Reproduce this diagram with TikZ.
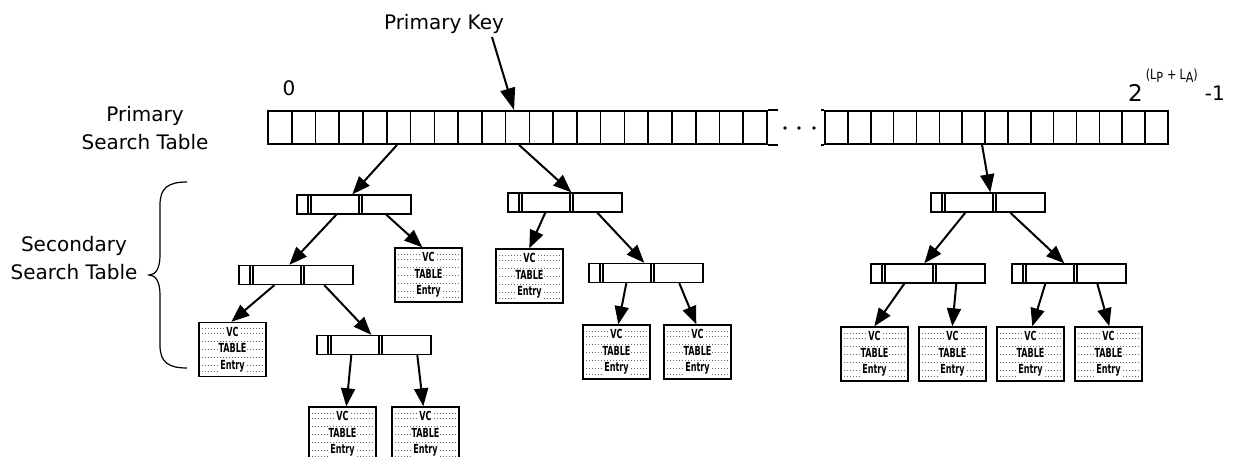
\documentclass[tikz,border=0pt]{standalone}
\usepackage{fontspec}
\setmainfont{DejaVu Sans}
\newfontfamily\entryfont{DejaVu Sans Condensed}[FakeStretch=0.72]
\newfontfamily\supfont{DejaVu Sans}[FakeStretch=0.8]
\usetikzlibrary{arrows.meta}
% one word of a VC table entry, masking the dotted rules behind it
\newcommand\entryword[1]{{\setlength{\fboxsep}{0.6pt}\colorbox{white}{#1}}}
\newcommand\vctext{\entryword{VC}\\\entryword{TABLE}\\\entryword{Entry}}
\begin{document}
\begin{tikzpicture}[x=1pt,y=-1pt,
  lbl/.style={font=\fontsize{20}{28}\selectfont, align=center, inner sep=0pt},
  tbl/.style={draw, line width=1.9pt, inner sep=0pt, minimum height=33pt},
  sbar/.style={draw, line width=1.4pt, inner sep=0pt, minimum width=114pt, minimum height=19pt,
    path picture={\foreach \d in {11,14,62,65}
      \draw[line width=1.1pt] ([xshift=\d pt]path picture bounding box.south west)
        -- ([xshift=\d pt]path picture bounding box.north west);}},
  entry/.style={draw, line width=1.4pt, inner sep=0pt, minimum width=67pt, minimum height=54pt,
    align=center, font=\entryfont\bfseries\fontsize{12.5}{16.5}\selectfont,
    path picture={\foreach \h in {6,11,19,27,35,43,49}
      \draw[line width=0.5pt, black!60, dash pattern=on 0.8pt off 2.2pt]
        ([yshift=-\h pt]path picture bounding box.north west)
        -- ([yshift=-\h pt]path picture bounding box.north east);}},
  arr/.style={line width=2pt, -{Triangle[length=18pt,width=14pt]}}
]
\useasboundingbox (0,0) rectangle (1242,457);

% primary search table, two runs of cells with an ellipsis between them
\node[tbl, minimum width=499pt,
  path picture={\foreach \i in {1,...,20}
    \draw[line width=1.6pt] ([xshift=\i*23.762pt]path picture bounding box.south west)
      -- ([xshift=\i*23.762pt]path picture bounding box.north west);}] (tabL) at (517.5,127.5) {};
\node[tbl, minimum width=343pt,
  path picture={\foreach \i in {1,...,14}
    \draw[line width=1.6pt] ([xshift=\i*22.867pt]path picture bounding box.south west)
      -- ([xshift=\i*22.867pt]path picture bounding box.north west);}] (tabR) at (996.5,127.5) {};
\draw[line width=1.9pt] (tabL.north east) -- ++(10,0) (tabL.south east) -- ++(10,0);
\draw[line width=1.9pt] (tabR.north west) -- ++(-3,0) (tabR.south west) -- ++(-3,0);
\foreach \x in {785,799,814} \fill (\x,128) circle (1.8pt);

% labels
\node[lbl] (pk) at (444,24) {Primary Key};
\node[lbl] (pst) at (145,128) {Primary\\Search Table};
\node[lbl] (sst) at (74,258) {Secondary\\Search Table};
\node[lbl] (zero) at (289,88) {0};
\node[inner sep=0pt, anchor=base west] (maxidx) at (1128,102)
  {{\fontsize{23}{23}\selectfont 2}\hspace{3pt}\raisebox{22pt}{\supfont\fontsize{14}{14}\selectfont
   (L\raisebox{-3pt}{P}\hspace{4pt}+\hspace{3pt}L\raisebox{-3pt}{A})}\hspace{7pt}\raisebox{1pt}{\fontsize{20}{20}\selectfont -1}};

\coordinate (pkfrom) at (492,37);
\draw[line width=2pt, -{Triangle[length=22pt,width=15pt]}] (pkfrom) -- ([xshift=247pt]tabL.north west);

% brace grouping the secondary tables
\draw[line width=1.2pt] (187,182) .. controls (168,182) and (160,188) .. (160,205) -- (160,255)
  .. controls (160,268) and (156,275) .. (149,275)
  .. controls (156,275) and (160,282) .. (160,295) -- (160,345)
  .. controls (160,362) and (168,368) .. (187,368);

% secondary search tables
\node[sbar] (A) at (354,204.5) {};
\node[sbar] (B) at (296,275) {};
\node[sbar] (C) at (374,345) {};
\node[sbar] (D) at (565,202.5) {};
\node[sbar] (E) at (646,273) {};
\node[sbar] (F) at (988,202.5) {};
\node[sbar] (G) at (928,273.5) {};
\node[sbar] (H) at (1069,273.5) {};

% VC table entries
\node[entry] (e1) at (232.5,349.5) {\vctext};
\node[entry] (e2) at (428.5,275) {\vctext};
\node[entry] (e3) at (529.5,276) {\vctext};
\node[entry] (e4) at (616.5,352) {\vctext};
\node[entry] (e5) at (697.5,352) {\vctext};
\node[entry] (e6) at (342.5,434) {\vctext};
\node[entry] (e7) at (425.5,434) {\vctext};
\node[entry] (e8) at (874.5,354) {\vctext};
\node[entry] (e9) at (952.5,354) {\vctext};
\node[entry] (e10) at (1030.5,354) {\vctext};
\node[entry] (e11) at (1108.5,354) {\vctext};

% links
\draw[arr] ([xshift=130pt]tabL.south west) -- ([xshift=56pt]A.north west);
\draw[arr] ([xshift=252pt]tabL.south west) -- ([xshift=64pt]D.north west);
\draw[arr] ([xshift=158pt]tabR.south west) -- ([xshift=60pt]F.north west);
\draw[arr] ([xshift=40pt]A.south west) -- ([xshift=51pt]B.north west);
\draw[arr] ([xshift=90pt]A.south west) -- ([xshift=28pt]e2.north west);
\draw[arr] ([xshift=36pt]B.south west) -- ([xshift=33pt]e1.north west);
\draw[arr] ([xshift=86pt]B.south west) -- ([xshift=55pt]C.north west);
\draw[arr] ([xshift=35pt]C.south west) -- ([xshift=38pt]e6.north west);
\draw[arr] ([xshift=101pt]C.south west) -- ([xshift=32pt]e7.north west);
\draw[arr] ([xshift=38pt]D.south west) -- ([xshift=34pt]e3.north west);
\draw[arr] ([xshift=90pt]D.south west) -- ([xshift=56pt]E.north west);
\draw[arr] ([xshift=38pt]E.south west) -- ([xshift=36pt]e4.north west);
\draw[arr] ([xshift=91pt]E.south west) -- ([xshift=33pt]e5.north west);
\draw[arr] ([xshift=35pt]F.south west) -- ([xshift=54pt]G.north west);
\draw[arr] ([xshift=80pt]F.south west) -- ([xshift=53pt]H.north west);
\draw[arr] ([xshift=34pt]G.south west) -- ([xshift=34pt]e8.north west);
\draw[arr] ([xshift=86pt]G.south west) -- ([xshift=34pt]e9.north west);
\draw[arr] ([xshift=34pt]H.south west) -- ([xshift=36pt]e10.north west);
\draw[arr] ([xshift=86pt]H.south west) -- ([xshift=35pt]e11.north west);
\end{tikzpicture}
\end{document}
